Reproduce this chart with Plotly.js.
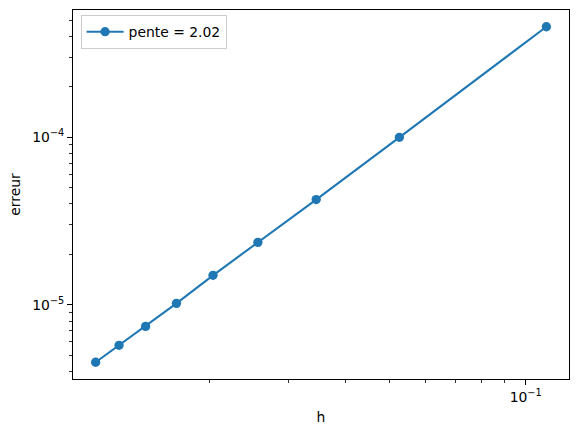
<!DOCTYPE html>
<html>
<head>
<meta charset="utf-8">
<script src="https://cdn.plot.ly/plotly-3.0.1.min.js"></script>
<style>html,body{margin:0;padding:0;background:#fff;}#chart{width:578px;height:437px;}</style>
</head>
<body>
<div id="chart"></div>
<script>
// Data (log-log convergence plot)
const h = [0.01124, 0.01266, 0.01449, 0.01695, 0.02041, 0.02564, 0.03448, 0.05263, 0.1111];
const erreur = [4.54e-6, 5.73e-6, 7.43e-6, 1.02e-5, 1.50e-5, 2.36e-5, 4.25e-5, 1.00e-4, 4.57e-4];
const seriesName = "pente = 2.02";

const xTickVals = [0.1];
const xTickText = ["10<sup>−1</sup>"];
const xMinorVals = [0.02, 0.03, 0.04, 0.05, 0.06, 0.07, 0.08, 0.09];
const yTickVals = [1e-5, 1e-4];
const yTickText = ["10<sup>−5</sup>", "10<sup>−4</sup>"];
const yMinorVals = [4e-6, 5e-6, 6e-6, 7e-6, 8e-6, 9e-6, 2e-5, 3e-5, 4e-5, 5e-5, 6e-5, 7e-5, 8e-5, 9e-5, 2e-4, 3e-4, 4e-4, 5e-4];

const color = "#1f77b4";
const font = {family: "DejaVu Sans, sans-serif", size: 13.9, color: "#000"};

const trace = {
  x: h, y: erreur, type: "scatter", mode: "lines+markers",
  name: seriesName,
  line: {color: color, width: 2.1},
  marker: {color: color, size: 9.3}
};

const axisCommon = {
  type: "log",
  showline: true, linecolor: "#000", linewidth: 1.1, mirror: true,
  showgrid: false, zeroline: false,
  ticks: "outside", ticklen: 4.9, tickwidth: 1.1, tickcolor: "#000",
  tickmode: "array",
  tickfont: font
};

const layout = {
  width: 578, height: 437,
  margin: {l: 73.4, r: 8.7, t: 10, b: 58},
  paper_bgcolor: "#fff", plot_bgcolor: "#fff",
  font: font,
  showlegend: true,
  legend: {
    x: 0.0153, y: 0.986, xanchor: "left", yanchor: "top",
    bgcolor: "rgba(255,255,255,0.8)", bordercolor: "#cccccc", borderwidth: 1,
    itemwidth: 37,
    font: font
  },
  xaxis: Object.assign({}, axisCommon, {
    range: [-1.9992, -0.9044],
    tickvals: xTickVals, ticktext: xTickText,
    minor: {tickmode: "array", tickvals: xMinorVals, ticks: "outside", ticklen: 2.8, tickwidth: 0.8, tickcolor: "#000", showgrid: false},
    title: {text: "h", font: font, standoff: 8}
  }),
  yaxis: Object.assign({}, axisCommon, {
    range: [-5.443, -3.240],
    tickvals: yTickVals, ticktext: yTickText,
    minor: {tickmode: "array", tickvals: yMinorVals, ticks: "outside", ticklen: 2.8, tickwidth: 0.8, tickcolor: "#000", showgrid: false},
    title: {text: "erreur", font: font, standoff: 8}
  })
};

Plotly.newPlot("chart", [trace], layout, {staticPlot: true, displayModeBar: false});
</script>
</body>
</html>
